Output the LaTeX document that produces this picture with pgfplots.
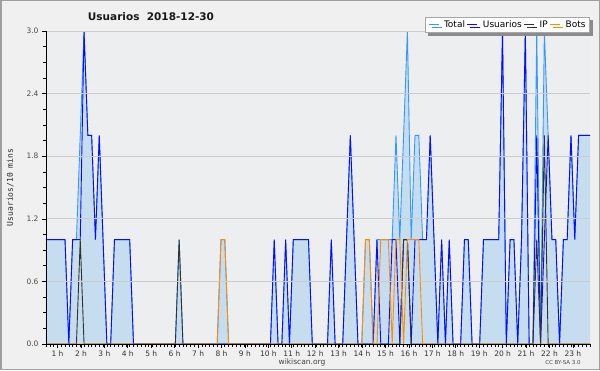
\documentclass[border=0pt]{standalone}
\usepackage{pgfplots}
\pgfplotsset{compat=1.18}
\usepackage{pgfplotstable}
\usepackage{fontspec}
\setmainfont{DejaVu Sans}
\newfontfamily\monofont{DejaVu Sans Mono}
\usetikzlibrary{shadows}
\definecolor{bgout}{RGB}{240,240,240}
\definecolor{bgin}{RGB}{236,238,240}
\definecolor{fillc}{RGB}{198,221,240}
\definecolor{totc}{RGB}{51,153,255}
\definecolor{usrc}{RGB}{10,10,255}
\definecolor{ipc}{RGB}{50,50,50}
\definecolor{botc}{RGB}{255,140,0}
\definecolor{gridc}{RGB}{204,204,204}

\pgfplotstableread[row sep=\\]{
x t u i b\\
0 1 1 0 0\\ 1 1 1 0 0\\ 2 1 1 0 0\\ 3 1 1 0 0\\ 4 1 1 0 0\\ 5 1 1 0 0\\
6 0 0 0 0\\ 7 1 1 0 0\\ 8 1 1 0 0\\ 9 2 1 1 0\\ 10 3 3 0 0\\ 11 2 2 0 0\\
12 2 2 0 0\\ 13 1 1 0 0\\ 14 2 2 0 0\\ 15 1 1 0 0\\ 16 0 0 0 0\\ 17 0 0 0 0\\
18 1 1 0 0\\ 19 1 1 0 0\\ 20 1 1 0 0\\ 21 1 1 0 0\\ 22 1 1 0 0\\ 23 0 0 0 0\\
24 0 0 0 0\\ 25 0 0 0 0\\ 26 0 0 0 0\\ 27 0 0 0 0\\ 28 0 0 0 0\\ 29 0 0 0 0\\
30 0 0 0 0\\ 31 0 0 0 0\\ 32 0 0 0 0\\ 33 0 0 0 0\\ 34 0 0 0 0\\ 35 1 0 1 0\\
36 0 0 0 0\\ 37 0 0 0 0\\ 38 0 0 0 0\\ 39 0 0 0 0\\ 40 0 0 0 0\\ 41 0 0 0 0\\
42 0 0 0 0\\ 43 0 0 0 0\\ 44 0 0 0 0\\ 45 0 0 0 0\\ 46 1 0 0 1\\ 47 1 0 0 1\\
48 0 0 0 0\\ 49 0 0 0 0\\ 50 0 0 0 0\\ 51 0 0 0 0\\ 52 0 0 0 0\\ 53 0 0 0 0\\
54 0 0 0 0\\ 55 0 0 0 0\\ 56 0 0 0 0\\ 57 0 0 0 0\\ 58 0 0 0 0\\ 59 0 0 0 0\\
60 1 1 0 0\\ 61 0 0 0 0\\ 62 0 0 0 0\\ 63 1 1 0 0\\ 64 0 0 0 0\\ 65 1 1 0 0\\
66 1 1 0 0\\ 67 1 1 0 0\\ 68 1 1 0 0\\ 69 1 1 0 0\\ 70 0 0 0 0\\ 71 0 0 0 0\\
72 0 0 0 0\\ 73 0 0 0 0\\ 74 0 0 0 0\\ 75 1 1 0 0\\ 76 0 0 0 0\\ 77 0 0 0 0\\
78 0 0 0 0\\ 79 1 1 0 0\\ 80 2 2 0 0\\ 81 1 1 0 0\\ 82 0 0 0 0\\ 83 0 0 0 0\\
84 1 0 0 1\\ 85 1 0 0 1\\ 86 0 0 0 0\\ 87 1 1 0 0\\ 88 1 0 0 1\\ 89 1 0 0 1\\
90 1 0 0 1\\ 91 1 1 0 0\\ 92 2 1 0 1\\ 93 1 0 0 1\\ 94 2 1 1 0\\ 95 3 1 1 1\\
96 1 0 0 1\\ 97 2 1 0 1\\ 98 2 1 0 1\\ 99 1 1 0 0\\ 100 1 1 0 0\\ 101 2 2 0 0\\
102 1 1 0 0\\ 103 0 0 0 0\\ 104 1 1 0 0\\ 105 0 0 0 0\\ 106 1 1 0 0\\ 107 0 0 0 0\\
108 0 0 0 0\\ 109 0 0 0 0\\ 110 1 1 0 0\\ 111 1 1 0 0\\ 112 0 0 0 0\\ 113 0 0 0 0\\
114 0 0 0 0\\ 115 1 1 0 0\\ 116 1 1 0 0\\ 117 1 1 0 0\\ 118 1 1 0 0\\ 119 1 1 0 0\\
120 3 3 0 0\\ 121 0 0 0 0\\ 122 1 1 0 0\\ 123 1 1 0 0\\ 124 0 0 0 0\\ 125 1 1 0 0\\
126 3 3 0 0\\ 127 0 0 0 0\\ 128 0 0 0 0\\ 129 3 2 1 0\\ 130 0 0 0 0\\ 131 3 1 2 0\\
132 2 2 0 0\\ 133 1 1 0 0\\ 134 1 1 0 0\\ 135 0 0 0 0\\ 136 1 1 0 0\\ 137 1 1 0 0\\
138 2 2 0 0\\ 139 1 1 0 0\\ 140 2 2 0 0\\ 141 2 2 0 0\\ 142 2 2 0 0\\ 143 2 2 0 0\\
}\data

\begin{document}
\begin{tikzpicture}
\path[use as bounding box] (0pt,0pt) rectangle (600pt,370pt);
\fill[bgout] (0pt,0pt) rectangle (600pt,370pt);
\draw[gray!75, line width=1.5pt] (0.75pt,0.75pt) rectangle (599.25pt,369.25pt);
\node[font=\bfseries\fontsize{10.5}{12}\selectfont, text=black!90] at (151pt,353pt) {Usuarios\hspace{0.7em}2018-12-30};
\node[font=\fontsize{7.5}{8}\selectfont, text=black!75] at (302pt,8pt) {wikiscan.org};
\node[font=\fontsize{5.5}{6}\selectfont, text=black!70] at (563pt,8pt) {CC BY-SA 3.0};
\begin{axis}[
  at={(46pt,26pt)}, anchor=south west,
  scale only axis, width=544pt, height=313pt,
  xmin=0, xmax=143, ymin=0, ymax=3,
  axis background/.style={fill=bgin},
  axis x line=bottom, axis y line=left,
  axis line style={-, black, line width=0.8pt},
  axis on top,
  tick align=outside,
  major tick length=4pt, minor tick length=2.5pt,
  every tick/.style={black, line width=0.6pt},
  ytick={0,0.6,1.2,1.8,2.4,3},
  minor y tick num=3,
  ymajorgrids, grid style={gridc, line width=0.8pt},
  yticklabel style={/pgf/number format/fixed, /pgf/number format/precision=1, /pgf/number format/fixed zerofill, /pgf/number format/assume math mode=true, font=\fontsize{7.5}{8}\selectfont, text=black!70},
  xtick={3.03,9.19,15.34,21.50,27.66,33.82,39.98,46.13,52.29,58.45,64.61,70.77,76.92,83.08,89.24,95.40,101.56,107.71,113.87,120.03,126.19,132.35,138.50},
  xticklabels={1 h,2 h,3 h,4 h,5 h,6 h,7 h,8 h,9 h,10 h,11 h,12 h,13 h,14 h,15 h,16 h,17 h,18 h,19 h,20 h,21 h,22 h,23 h},
  minor xtick={0,1,...,143},
  xticklabel style={font=\fontsize{7.5}{8}\selectfont, text=black!80, yshift=1pt},
  ylabel={Usuarios/10 mins},
  ylabel style={font=\monofont\fontsize{8}{9}\selectfont, text=black!85, at={(axis description cs:-0.066,0.5)}, anchor=center},
  legend columns=4,
  legend image code/.code={\draw[#1, fill=none] (0pt,0pt) -- (10pt,0pt);},
  legend style={at={(1,1)}, anchor=south east, yshift=-2pt, draw=gray!70, line width=0.8pt, fill=white, font=\fontsize{9}{10}\selectfont, inner xsep=3pt, inner ysep=1.5pt, drop shadow={shadow xshift=3pt, shadow yshift=-3pt, fill=gray!90, opacity=1}, nodes={inner xsep=1pt}, /tikz/every even column/.append style={column sep=1pt}, /tikz/every odd column/.append style={column sep=1pt}},
]
\addplot[draw=none, fill=fillc, forget plot] table[x=x, y=t] {\data} \closedcycle;
\addplot[totc, line width=0.9pt] table[x=x, y=t] {\data};
\addlegendentry{\hspace{3pt}Total}
\addplot[usrc, line width=0.9pt] table[x=x, y=u] {\data};
\addlegendentry{\hspace{3pt}Usuarios}
\addplot[ipc, line width=0.9pt] table[x=x, y=i] {\data};
\addlegendentry{\hspace{3pt}IP}
\addplot[botc, line width=0.9pt] table[x=x, y=b] {\data};
\addlegendentry{\hspace{3pt}Bots}
\end{axis}
\end{tikzpicture}
\end{document}
